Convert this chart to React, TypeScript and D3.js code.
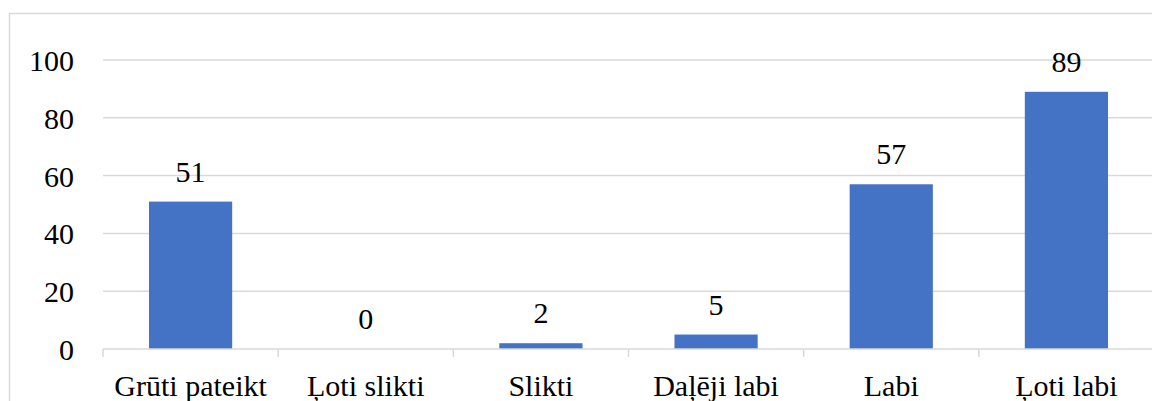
import React from "react";
import * as d3 from "d3";

const categories = ["Grūti pateikt", "Ļoti slikti", "Slikti", "Daļēji labi", "Labi", "Ļoti labi"];
const values = [51, 0, 2, 5, 57, 89];
const yTicks = [0, 20, 40, 60, 80, 100];

const W = 1152;
const H = 401;
const serifFont = "Liberation Serif";

export default function App() {
  const x = d3.scaleBand<string>().domain(categories).range([103, 1154]).paddingInner(0.525).paddingOuter(0.2625);
  const band = d3.scaleBand<string>().domain(categories).range([103, 1154]);
  const y = d3.scaleLinear().domain([0, 100]).range([349, 60]);
  const grid = "#d9d9d9";
  const ts = (anchor: string): React.CSSProperties => ({
    fontFamily: `"${serifFont}"`,
    fontSize: "30px",
    textAnchor: anchor as any,
  });

  return (
    <svg width={W} height={H} style={{ position: "absolute", left: 0, top: 0, background: "#fff" }}>
      <rect x={9.5} y={13.5} width={W + 10} height={H + 10} fill="#fff" stroke={grid} strokeWidth={1.5} />
      {yTicks.filter((t) => t > 0).map((t) => (
        <line key={t} x1={103} x2={1154} y1={y(t)} y2={y(t)} stroke={grid} strokeWidth={1.5} />
      ))}
      {yTicks.map((t) => (
        <text key={"l" + t} x={74} y={y(t) + 11} style={ts("end")}>
          {String(t)}
        </text>
      ))}
      {categories.map((c, i) => {
        const v = values[i];
        const bx = x(c)!;
        const bw = x.bandwidth();
        return (
          <g key={c}>
            {v > 0 && <rect x={bx} y={y(v)} width={bw} height={y(0) - y(v)} fill="#4472c4" />}
            <text x={bx + bw / 2} y={y(v) - 20} style={ts("middle")}>
              {String(v)}
            </text>
            <text x={band(c)! + band.bandwidth() / 2} y={396} style={ts("middle")}>
              {c}
            </text>
          </g>
        );
      })}
      <line x1={103} x2={1154} y1={y(0)} y2={y(0)} stroke={grid} strokeWidth={1.5} />
      {d3.range(categories.length + 1).map((i) => {
        const tx = 103 + i * band.step();
        return <line key={"t" + i} x1={tx} x2={tx} y1={y(0)} y2={y(0) + 8} stroke={grid} strokeWidth={1.5} />;
      })}
    </svg>
  );
}
